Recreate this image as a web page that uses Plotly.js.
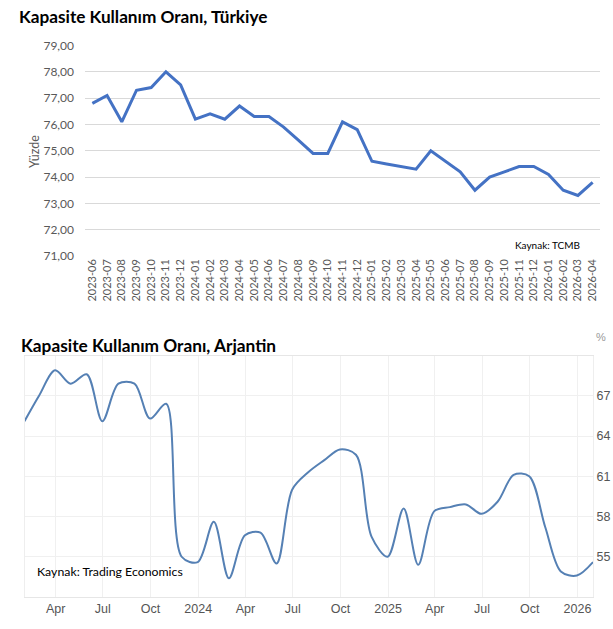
<!DOCTYPE html>
<html>
<head>
<meta charset="utf-8">
<script src="https://cdn.plot.ly/plotly-3.0.1.min.js"></script>
<style>
  html, body { margin: 0; padding: 0; background: #ffffff; }
  #chart { width: 613px; height: 629px; }
</style>
</head>
<body>
<div id="chart"></div>
<script>
// Türkiye: monthly capacity utilisation rate (%), TCMB
const trMonths = [
  "2023-06", "2023-07", "2023-08", "2023-09", "2023-10", "2023-11", "2023-12",
  "2024-01", "2024-02", "2024-03", "2024-04", "2024-05", "2024-06", "2024-07",
  "2024-08", "2024-09", "2024-10", "2024-11", "2024-12",
  "2025-01", "2025-02", "2025-03", "2025-04", "2025-05", "2025-06", "2025-07",
  "2025-08", "2025-09", "2025-10", "2025-11", "2025-12",
  "2026-01", "2026-02", "2026-03", "2026-04"
];
const trValues = [
  76.8, 77.1, 76.1, 77.3, 77.4, 78.0, 77.5,
  76.2, 76.4, 76.2, 76.7, 76.3, 76.3, 75.9,
  75.4, 74.9, 74.9, 76.1, 75.8,
  74.6, 74.5, 74.4, 74.3, 75.0, 74.6, 74.2,
  73.5, 74.0, 74.2, 74.4, 74.4,
  74.1, 73.5, 73.3, 73.8
];
const trTicks = [71, 72, 73, 74, 75, 76, 77, 78, 79];

// Arjantin: monthly capacity utilisation rate (%), Trading Economics
const arDates = [
  "2023-01-31", "2023-02-28", "2023-03-31", "2023-04-30", "2023-05-31", "2023-06-30",
  "2023-07-31", "2023-08-31", "2023-09-30", "2023-10-31", "2023-11-30", "2023-12-31",
  "2024-01-31", "2024-02-29", "2024-03-31", "2024-04-30", "2024-05-31", "2024-06-30",
  "2024-07-31", "2024-08-31", "2024-09-30", "2024-10-31", "2024-11-30", "2024-12-31",
  "2025-01-31", "2025-02-28", "2025-03-31", "2025-04-30", "2025-05-31", "2025-06-30",
  "2025-07-31", "2025-08-31", "2025-09-30", "2025-10-31", "2025-11-30", "2025-12-31",
  "2026-01-31"
];
const arValues = [
  65.1, 67.0, 68.9, 67.9, 68.6, 65.1,
  67.9, 67.9, 65.3, 66.4, 55.0, 54.6,
  57.6, 53.4, 56.6, 56.8, 54.5, 60.0,
  61.3, 62.2, 63.0, 62.6, 56.5, 55.0,
  58.6, 54.4, 58.4, 58.7, 58.9, 58.2,
  59.1, 61.1, 61.0, 57.2, 53.9, 53.6,
  54.6
];
const arTickDates = [
  "2023-04-01", "2023-07-01", "2023-10-01", "2024-01-01",
  "2024-04-01", "2024-07-01", "2024-10-01", "2025-01-01",
  "2025-04-01", "2025-07-01", "2025-10-01", "2026-01-01"
];
const arTickLabels = ["Apr", "Jul", "Oct", "2024", "Apr", "Jul", "Oct", "2025", "Apr", "Jul", "Oct", "2026"];
const arYTicks = [55, 58, 61, 64, 67];

const W = 613, H = 629;
const px = v => v / W;
const py = v => 1 - v / H;

const excelFont = "Lato, 'Liberation Sans', sans-serif";
const teFont = "'Liberation Sans Narrow', 'Liberation Sans', Arial, sans-serif";

const traces = [
  {
    x: trMonths, y: trValues,
    xaxis: "x", yaxis: "y",
    type: "scatter", mode: "lines",
    line: { color: "#4472C4", width: 3, shape: "linear" },
    hoverinfo: "skip", showlegend: false
  },
  {
    x: arDates, y: arValues,
    xaxis: "x2", yaxis: "y2",
    type: "scatter", mode: "lines",
    line: { color: "#5580b4", width: 2, shape: "spline", smoothing: 0.9 },
    hoverinfo: "skip", showlegend: false
  }
];

const layout = {
  width: W, height: H,
  margin: { l: 0, r: 0, t: 0, b: 0 },
  paper_bgcolor: "#ffffff",
  plot_bgcolor: "#ffffff",
  separators: ",.",
  showlegend: false,
  xaxis: {
    domain: [px(85), px(600)],
    anchor: "y",
    type: "category",
    range: [-0.5, trMonths.length - 0.5],
    tickangle: -90,
    tickfont: { family: excelFont, size: 11, color: "#595959" },
    showgrid: false, zeroline: false, showline: false,
    ticks: "", fixedrange: true
  },
  yaxis: {
    domain: [py(256), py(45.5)],
    anchor: "x",
    range: [71, 79],
    tickvals: trTicks,
    tickformat: ".2f",
    ticklabelstandoff: 10,
    tickfont: { family: excelFont, size: 12, color: "#595959" },
    gridcolor: "#d9d9d9", gridwidth: 1,
    zeroline: false, showline: false, ticks: "",
    fixedrange: true
  },
  xaxis2: {
    domain: [px(24.5), px(593)],
    anchor: "y2",
    type: "date",
    range: [arDates[0], arDates[arDates.length - 1]],
    tickvals: arTickDates,
    ticktext: arTickLabels,
    tickfont: { family: teFont, size: 12.5, color: "#555555" },
    showgrid: true, gridcolor: "#f0f0f0", gridwidth: 1,
    showline: true, linecolor: "#e6e6e6", linewidth: 1, mirror: true,
    zeroline: false, ticks: "", fixedrange: true
  },
  yaxis2: {
    domain: [py(597), py(355.5)],
    anchor: "x2",
    side: "right",
    range: [52, 70],
    tickvals: arYTicks,
    tickfont: { family: teFont, size: 12.5, color: "#555555" },
    showgrid: true, gridcolor: "#f0f0f0", gridwidth: 1,
    showline: true, linecolor: "#eeeeee", linewidth: 1, mirror: true,
    zeroline: false, ticks: "", fixedrange: true
  },
  annotations: [
    {
      text: "Kapasite Kullanım Oranı, Türkiye",
      xref: "paper", yref: "paper", x: px(17), y: py(16),
      xanchor: "left", yanchor: "middle", showarrow: false,
      font: { family: excelFont, size: 17.2, color: "#000000", weight: "bold" }
    },
    {
      text: "Yüzde",
      xref: "paper", yref: "paper", x: px(34), y: py(152),
      xanchor: "center", yanchor: "middle", showarrow: false, textangle: -90,
      font: { family: excelFont, size: 12.5, color: "#595959" }
    },
    {
      text: "Kaynak: TCMB",
      xref: "paper", yref: "paper", x: px(547), y: py(245),
      xanchor: "center", yanchor: "middle", showarrow: false,
      font: { family: excelFont, size: 10, color: "#000000" }
    },
    {
      text: "Kapasite Kullanım Oranı, Arjantin",
      xref: "paper", yref: "paper", x: px(19), y: py(345),
      xanchor: "left", yanchor: "middle", showarrow: false,
      font: { family: excelFont, size: 17.3, color: "#000000", weight: "bold" }
    },
    {
      text: "%",
      xref: "paper", yref: "paper", x: px(601), y: py(337),
      xanchor: "center", yanchor: "middle", showarrow: false,
      font: { family: teFont, size: 11, color: "#999999" }
    },
    {
      text: "Kaynak: Trading Economics",
      xref: "paper", yref: "paper", x: px(35), y: py(571),
      xanchor: "left", yanchor: "middle", showarrow: false,
      font: { family: excelFont, size: 12.3, color: "#000000" }
    }
  ]
};

Plotly.newPlot("chart", traces, layout, { displayModeBar: false, staticPlot: true });
</script>
</body>
</html>
